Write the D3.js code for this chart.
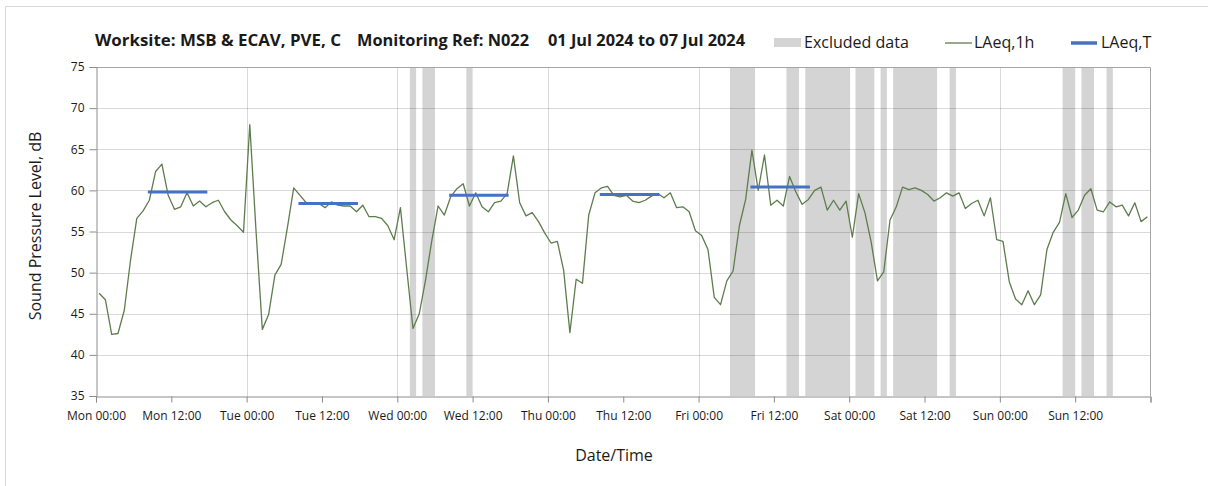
<!DOCTYPE html>
<html>
<head>
<meta charset="utf-8">
<script src="https://cdn.jsdelivr.net/npm/d3@7"></script>
<style>
  html, body { margin: 0; padding: 0; background: #fff; }
  svg { display: block; }
  text { font-family: "Open Sans", "DejaVu Sans", sans-serif; fill: #1a1a1a; }
</style>
</head>
<body>
<svg id="chart" width="1208" height="486"></svg>
<script>
// ---------------- DATA ----------------
const titleParts = ["Worksite: MSB & ECAV, PVE, C", "Monitoring Ref: N022", "01 Jul 2024 to 07 Jul 2024"];
const legendLabels = ["Excluded data", "LAeq,1h", "LAeq,T"];
const yTicks = [35, 40, 45, 50, 55, 60, 65, 70, 75];
const xTickHours = [0, 12, 24, 36, 48, 60, 72, 84, 96, 108, 120, 132, 144, 156, 168];
const xTickLabels = ["Mon 00:00", "Mon 12:00", "Tue 00:00", "Tue 12:00", "Wed 00:00", "Wed 12:00",
  "Thu 00:00", "Thu 12:00", "Fri 00:00", "Fri 12:00", "Sat 00:00", "Sat 12:00", "Sun 00:00", "Sun 12:00", ""];
const dayGridHours = [24, 48, 72, 96, 120, 144];

// hourly LAeq,1h values (hour index 0 = Mon 00:00)
const laeq1h = [
  47.5, 46.7, 42.5, 42.6, 45.4, 51.5, 56.6, 57.5, 58.8, 62.3, 63.2, 59.4, 57.7, 58.0, 59.7, 58.1, 58.7, 58.0, 58.5, 58.8, 57.4, 56.4, 55.7, 54.9,
  68.0, 55.0, 43.1, 44.9, 49.7, 51.0, 55.5, 60.3, 59.4, 58.5, 58.3, 58.4, 57.9, 58.6, 58.2, 58.1, 58.1, 57.4, 58.2, 56.8, 56.8, 56.6, 55.7, 54.0,
  57.9, 50.5, 43.2, 45.0, 49.1, 53.9, 58.1, 57.0, 59.2, 60.2, 60.8, 58.1, 59.7, 58.0, 57.4, 58.5, 58.7, 59.6, 64.2, 58.5, 56.9, 57.3, 56.2, 54.8,
  53.6, 53.8, 50.3, 42.7, 49.2, 48.7, 57.0, 59.7, 60.3, 60.5, 59.4, 59.2, 59.4, 58.7, 58.5, 58.8, 59.3, 59.6, 59.1, 59.7, 57.9, 58.0, 57.4, 55.1,
  54.5, 52.8, 47.0, 46.1, 49.0, 50.2, 55.7, 58.9, 64.9, 60.0, 64.3, 58.2, 58.8, 58.1, 61.7, 59.8, 58.3, 58.9, 60.0, 60.4, 57.6, 58.8, 57.6, 58.7,
  54.3, 59.6, 57.3, 53.7, 49.0, 50.1, 56.4, 58.0, 60.4, 60.1, 60.3, 60.0, 59.5, 58.7, 59.1, 59.7, 59.3, 59.7, 57.8, 58.4, 58.8, 56.9, 59.1, 54.0,
  53.8, 48.9, 46.8, 46.1, 47.8, 46.1, 47.3, 52.8, 54.9, 56.1, 59.6, 56.7, 57.6, 59.4, 60.2, 57.6, 57.4, 58.6, 58.0, 58.2, 56.9, 58.5, 56.2, 56.8
];

// excluded data periods (hour index from / to)
const excludedStart = [50, 52, 59, 101, 110, 113, 121, 125, 127, 136, 154, 157, 161];
const excludedEnd   = [51, 54, 60, 105, 112, 120, 124, 126, 134, 137, 156, 159, 162];

// LAeq,T daytime values (hour index from / to)
const laeqTStart  = [8, 32, 56, 80, 104];
const laeqTEnd    = [17, 41, 65, 89, 113];
const laeqTValues = [59.8, 58.4, 59.4, 59.5, 60.4];

// ---------------- CHART ----------------
const svg = d3.select("#chart");
const L = 96, R = 1150.5, T = 67, B = 396;
const x = d3.scaleLinear().domain([0, 168]).range([L, R]);
const y = d3.scaleLinear().domain([35, 75]).range([B, T]);
const green = "#5e7d4e", blue = "#4472c4", band = "#d4d4d4";

// outer frame
svg.append("path").attr("d", "M5.5,486 L5.5,6.5 L1208,6.5")
  .attr("fill", "none").attr("stroke", "#d9d9d9").attr("stroke-width", 1);

// excluded bands
svg.append("g").selectAll("rect").data(excludedStart).join("rect")
  .attr("x", (d) => x(d))
  .attr("width", (d, i) => x(excludedEnd[i]) - x(d))
  .attr("y", T).attr("height", B - T)
  .attr("fill", band);

// gridlines
const grid = svg.append("g").attr("stroke", "rgba(0,0,0,0.15)").attr("stroke-width", 1);
grid.selectAll("line.h").data(yTicks.filter(v => v > 35 && v < 75)).join("line")
  .attr("x1", L).attr("x2", R)
  .attr("y1", d => Math.round(y(d)) + 0.5).attr("y2", d => Math.round(y(d)) + 0.5);
grid.selectAll("line.v").data(dayGridHours).join("line")
  .attr("y1", T).attr("y2", B)
  .attr("x1", d => Math.round(x(d)) + 0.5).attr("x2", d => Math.round(x(d)) + 0.5);

// plot border (top/right)
svg.append("path")
  .attr("d", `M${L},${T + 0.5} L${R},${T + 0.5} L${R},${B}`)
  .attr("fill", "none").attr("stroke", "#a6a6a6");

// axes
const yAxis = d3.axisLeft(y).tickValues(yTicks).tickSize(7).tickPadding(5).tickFormat(d3.format("d"));
const gy = svg.append("g").attr("transform", `translate(${L + 0.5},0)`).call(yAxis);
gy.select(".domain").attr("stroke", "#8c8c8c");
gy.selectAll(".tick line").attr("stroke", "#8c8c8c");
gy.selectAll(".tick text").attr("font-size", 12).attr("fill", "#262626")
  .style("font-family", '"Open Sans", sans-serif');

const xAxis = d3.axisBottom(x).tickValues(xTickHours).tickSize(6).tickPadding(9)
  .tickFormat((d, i) => xTickLabels[i]);
const gx = svg.append("g").attr("transform", `translate(0,${B + 0.5})`).call(xAxis);
gx.select(".domain").attr("stroke", "#8c8c8c");
gx.selectAll(".tick line").attr("stroke", "#8c8c8c");
gx.selectAll(".tick text").attr("font-size", 12).attr("fill", "#262626")
  .style("font-family", '"Open Sans", sans-serif');

// LAeq,1h line
const line = d3.line().x((d, i) => x(i + 0.5)).y(d => y(d));
svg.append("path").datum(laeq1h).attr("d", line)
  .attr("fill", "none").attr("stroke", green).attr("stroke-width", 1.3).attr("stroke-linejoin", "round");

// LAeq,T lines
svg.append("g").selectAll("line").data(laeqTValues).join("line")
  .attr("x1", (d, i) => x(laeqTStart[i] + 0.5))
  .attr("x2", (d, i) => x(laeqTEnd[i] + 0.5))
  .attr("y1", d => y(d)).attr("y2", d => y(d))
  .attr("stroke", blue).attr("stroke-width", 3).attr("stroke-linecap", "square");

// title
const titleX = [95, 357, 548];
const titleW = [246, 172, 197];
svg.append("g").selectAll("text").data(titleParts).join("text")
  .attr("x", (d, i) => titleX[i]).attr("y", 46)
  .attr("font-size", 16).attr("font-weight", "bold")
  .attr("textLength", (d, i) => titleW[i]).attr("lengthAdjust", "spacingAndGlyphs")
  .text(d => d);

// legend
const lg = svg.append("g");
lg.append("rect").attr("x", 774).attr("y", 38).attr("width", 27).attr("height", 9).attr("fill", band);
lg.append("text").attr("x", 804).attr("y", 48).attr("font-size", 16).text(legendLabels[0]);
lg.append("line").attr("x1", 945).attr("x2", 972).attr("y1", 43).attr("y2", 43)
  .attr("stroke", green).attr("stroke-width", 1.3);
lg.append("text").attr("x", 974).attr("y", 48).attr("font-size", 16).text(legendLabels[1]);
lg.append("line").attr("x1", 1071).attr("x2", 1097).attr("y1", 43).attr("y2", 43)
  .attr("stroke", blue).attr("stroke-width", 3.5);
lg.append("text").attr("x", 1101).attr("y", 48).attr("font-size", 16).text(legendLabels[2]);

// axis titles
svg.append("text").attr("transform", "translate(41,226) rotate(-90)")
  .attr("text-anchor", "middle").attr("font-size", 16).text("Sound Pressure Level, dB");
svg.append("text").attr("x", 614).attr("y", 461)
  .attr("text-anchor", "middle").attr("font-size", 16).text("Date/Time");
</script>
</body>
</html>
